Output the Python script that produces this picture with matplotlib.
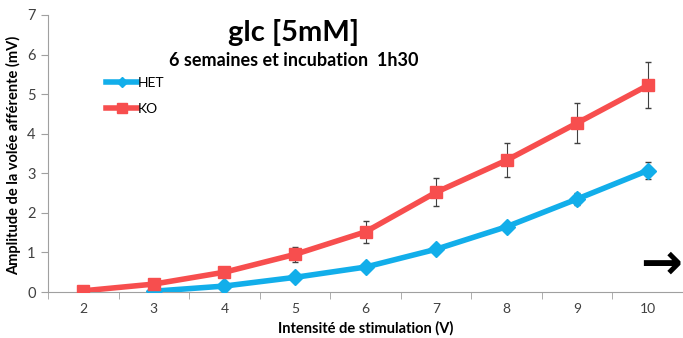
import numpy as np
import matplotlib
matplotlib.use("Agg")
import matplotlib.pyplot as plt
from matplotlib.lines import Line2D

plt.rcParams['font.family'] = ['Lato', 'DejaVu Sans']

# data
x_ko = [2, 3, 4, 5, 6, 7, 8, 9, 10]
ko = [0.03, 0.20, 0.50, 0.95, 1.52, 2.52, 3.33, 4.27, 5.22]
ko_err = [0.02, 0.04, 0.06, 0.18, 0.27, 0.35, 0.43, 0.50, 0.58]

x_het = [3, 4, 5, 6, 7, 8, 9, 10]
het = [0.02, 0.15, 0.37, 0.63, 1.08, 1.65, 2.35, 3.07]
het_err = [0.01, 0.03, 0.05, 0.06, 0.08, 0.10, 0.15, 0.21]

het_color = "#12AEEA"
ko_color = "#F74E4E"

fig = plt.figure(figsize=(6.83, 3.38), dpi=100)
ax = fig.add_axes([48/683, 1-292/338, 635/683, 277/338])

ax.errorbar(x_het, het, yerr=het_err, color=het_color, lw=4, marker="D",
            markersize=8, ecolor="#404040", elinewidth=0.8, capsize=2.5, zorder=3)
ax.errorbar(x_ko, ko, yerr=ko_err, color=ko_color, lw=4, marker="s",
            markersize=9, ecolor="#404040", elinewidth=0.8, capsize=2.5, zorder=3)

ax.set_xlim(1.5, 10.5)
ax.set_ylim(0, 7)
ax.set_xticks(x_ko)
ax.set_xticks(np.arange(1.5, 10.6, 1), minor=True)
ax.tick_params(axis="x", which="major", length=0, pad=8, labelsize=10, colors="#404040")
ax.tick_params(axis="x", which="minor", length=5, color="#A0A0A0", direction="out")
ax.set_yticks(range(0, 8))
ax.tick_params(axis="y", length=5, color="#A0A0A0", labelsize=10.5, colors="#404040", pad=4)

for s in ["top", "right"]:
    ax.spines[s].set_visible(False)
ax.spines["left"].set_color("#A0A0A0")
ax.spines["bottom"].set_color("#A0A0A0")

fig.text(366/683, 1-328/338, "Intensité de stimulation (V)", fontsize=10.5,
         fontweight="bold", ha="center", va="center")
fig.text(14/683, 1-155/338, "Amplitude de la volée afférente (mV)", fontsize=10.5,
         fontweight="bold", ha="center", va="center", rotation=90)

fig.text(294/683, 1-33/338, "glc [5mM]", fontsize=21, fontweight="bold",
         ha="center", va="center")
fig.text(294/683, 1-60/338, "6 semaines et incubation  1h30", fontsize=13,
         fontweight="bold", ha="center", va="center")

handles = [Line2D([], [], color=het_color, lw=4, marker="D", markersize=5),
           Line2D([], [], color=ko_color, lw=4, marker="s", markersize=7)]
ax.legend(handles, ["HET", "KO"], loc="upper left", bbox_to_anchor=(0.083, 0.795),
          frameon=False, fontsize=10, handlelength=2.2, handletextpad=0.1,
          labelspacing=0.95, borderaxespad=0)

fig.text(661/683, 1-265/338, "→", fontsize=36, fontweight="bold",
         ha="center", va="center", family=["DejaVu Sans"])

fig.savefig("out.png", dpi=100)
